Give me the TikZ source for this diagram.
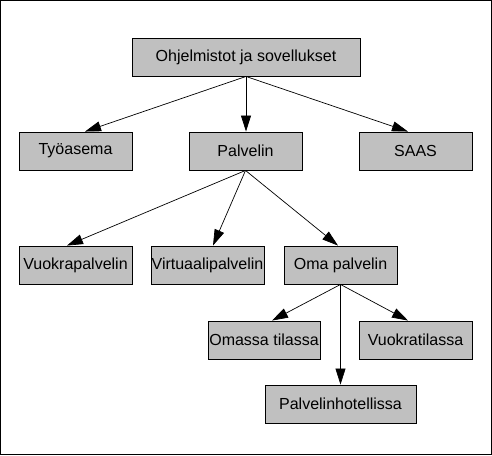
\documentclass[tikz,border=0pt]{standalone}
\usepackage{fontspec}
\setmainfont{Liberation Sans}
\usetikzlibrary{arrows.meta}
\definecolor{boxgray}{HTML}{C0C0C0}
\begin{document}
\begin{tikzpicture}[x=1pt,y=-1pt,
  box/.style={draw=black, fill=boxgray, line width=0.9pt, inner sep=0pt,
    minimum height=38pt, minimum width=113pt, font=\fontsize{16}{18}\selectfont},
  conn/.style={line width=0.7pt, -{Triangle[length=16pt,width=10pt]}}]
\useasboundingbox (0,0) rectangle (492,455);
\draw[line width=1pt] (0.5,0.5) rectangle (491.5,454.5);
\node[box, minimum width=228pt] (top) at (246,57) {Ohjelmistot ja sovellukset};
\node[box] (tyo) at (75.5,151) {Työasema};
\node[box] (palv) at (245.5,151) {Palvelin};
\node[box] (saas) at (415.5,151) {SAAS};
\node[box] (vuokrap) at (75.5,265) {Vuokrapalvelin};
\node[box] (virt) at (207.5,265) {Virtuaalipalvelin};
\node[box] (oma) at (340.5,265) {Oma palvelin};
\node[box, minimum width=112pt] (omassa) at (264,340) {Omassa tilassa};
\node[box] (vuokrat) at (415.5,340) {Vuokratilassa};
\node[box, minimum width=151pt] (hotel) at (340.5,404) {Palvelinhotellissa};
\draw[conn] (top.south) -- ([xshift=9.5pt]tyo.north);
\draw[conn] (top.south) -- (top.south |- palv.north);
\draw[conn] (top.south) -- ([xshift=-7.5pt]saas.north);
\draw[conn] (palv.south) -- ([xshift=-8.5pt]vuokrap.north);
\draw[conn] (palv.south) -- ([xshift=5.5pt]virt.north);
\draw[conn] (palv.south) -- ([xshift=-2.5pt]oma.north);
\draw[conn] (oma.south) -- ([xshift=8pt]omassa.north);
\draw[conn] (oma.south) -- ([xshift=-7.5pt]vuokrat.north);
\draw[conn] (oma.south) -- (hotel.north);
\end{tikzpicture}
\end{document}
